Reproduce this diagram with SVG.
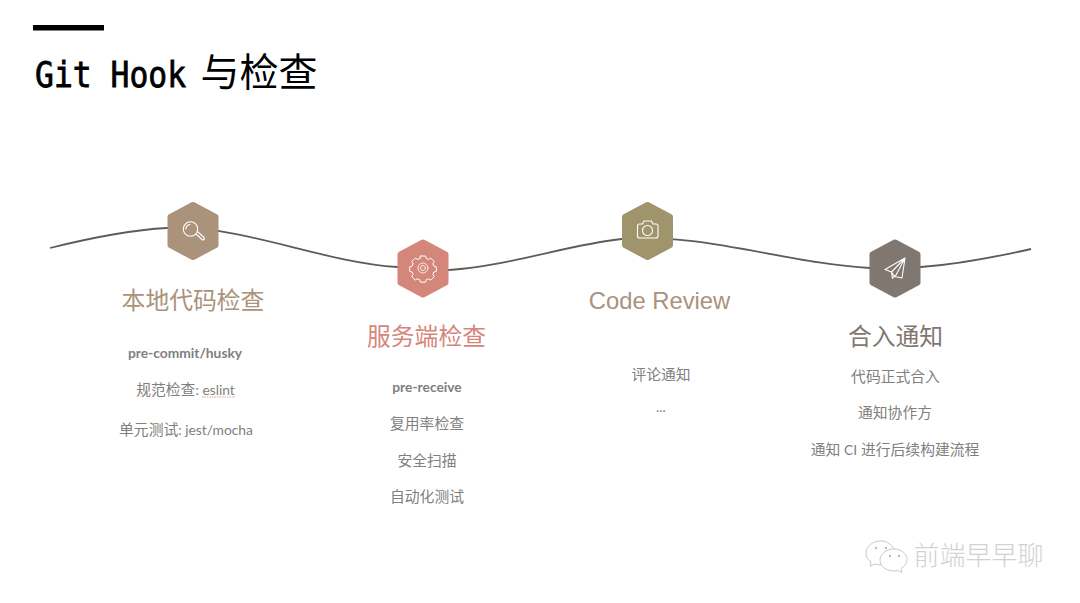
<svg xmlns="http://www.w3.org/2000/svg" width="1080" height="603" viewBox="0 0 1080 603">
<style>
text{text-anchor:middle;font-family:"Lato","Noto Sans CJK SC",sans-serif}
.t{font-family:"Liberation Sans","Noto Sans CJK SC",sans-serif;font-size:23.8px}
.b{font-size:14.8px;fill:#808080}
.l{font-size:13.8px}
.i{fill:none;stroke:#fff;stroke-width:1.1;stroke-linejoin:round;stroke-linecap:round}
.h{stroke-width:6;stroke-linejoin:round}
</style>
<defs><path id="hex" d="M0-26 22.500-14.200V14.200L0 26-22.500 14.200V-14.200Z"/></defs>
<rect width="1080" height="603" fill="#fff"/>
<g id="header">
<rect x="33" y="25" width="71" height="5.500" fill="#000"/>
<text x="35" y="86.500" textLength="151" lengthAdjust="spacingAndGlyphs" stroke="#000" stroke-width=".8" style="text-anchor:start;font-family:'DejaVu Sans Mono',monospace;font-size:36px" fill="#000">Git Hook</text>
<text x="259" y="86" font-size="39" fill="#000" style="font-family:'Noto Sans CJK SC',sans-serif">与检查</text>
</g>
<g id="connectors">
<path d="M50 248C90 238 130 230 167 228C240 224 320 262 397 267C415 268.500 432 271 449 270C510 266 570 244 622 239C700 232 790 264 870 268C890 269 905 268 921 267C960 264 1000 256 1031 249" fill="none" stroke="#5f5b59" stroke-width="1.800"/>
</g>
<g id="node1">
<use href="#hex" transform="translate(193 231)" fill="#ab927a" stroke="#ab927a" class="h"/>
<g class="i"><circle cx="190.500" cy="229" r="7.200"/><path d="M186 229a4.500 4.500 0 0 1 4-4.500M196 234l6 5.500a1.300 1.300 0 0 0 2-2l-6-5.500"/></g>
<text class="t" x="193" y="309" fill="#ab927a">本地代码检查</text>
<text class="b l" x="185" y="358" font-weight="700">pre-commit/husky</text>
<text class="b" x="185.500" y="394.500">规范检查<tspan class="l">: eslint</tspan></text>
<path d="M202 397h33" stroke="#d9a09a" stroke-width="1" stroke-dasharray="1.500 1"/>
<text class="b" x="186" y="434.500">单元测试<tspan class="l">: jest/mocha</tspan></text>
</g>
<g id="node2">
<use href="#hex" transform="translate(423 268.500)" fill="#d5867a" stroke="#d5867a" class="h"/>
<g class="i"><path stroke-width="1" d="M420.500 258.500h5l.7 2.500 2.200.9 2.400-1.300 3.400 3.400-1.300 2.400.9 2.200 2.500.7v4.600l-2.500.7-.9 2.200 1.300 2.400-3.400 3.400-2.400-1.300-2.200.9-.7 2.500h-5l-.7-2.500-2.200-.9-2.400 1.300-3.400-3.400 1.300-2.400-.9-2.200-2.500-.7v-4.600l2.500-.7.9-2.200-1.300-2.400 3.400-3.400 2.400 1.300 2.200-.9z" transform="translate(0 -2.500)"/><circle cx="423" cy="268" r="5" stroke-width=".8"/><circle cx="423" cy="268" r="2.500" stroke-width=".8"/></g>
<text class="t" x="426.500" y="345" fill="#d5867a">服务端检查</text>
<text class="b l" x="427" y="392" font-weight="700">pre-receive</text>
<text class="b" x="427" y="429">复用率检查</text>
<text class="b" x="427" y="465.500">安全扫描</text>
<text class="b" x="427" y="502">自动化测试</text>
</g>
<g id="node3">
<use href="#hex" transform="translate(647.500 231)" fill="#a0946c" stroke="#a0946c" class="h"/>
<g class="i"><path d="M637.500 226a2 2 0 0 1 2-2h3l1.500-3h7.500l1.500 3h3a2 2 0 0 1 2 2v10a2 2 0 0 1-2 2h-16.500a2 2 0 0 1-2-2z"/><circle cx="647.500" cy="230.500" r="5"/></g>
<text class="t" x="659.500" y="309" fill="#ab927a">Code Review</text>
<text class="b" x="661" y="379.500">评论通知</text>
<text class="b l" x="661" y="412">...</text>
</g>
<g id="node4">
<use href="#hex" transform="translate(895 268.500)" fill="#7f7770" stroke="#7f7770" class="h"/>
<g class="i"><path d="M905 258l-20 11.500 6.500 2.500 3 4.500 7.500 1.500zM905 258l-13.500 14 1 6.500 2-2.500M905 258l-9.500 18"/></g>
<text class="t" x="895.500" y="345" fill="#7f7770">合入通知</text>
<text class="b" x="895.500" y="381.500">代码正式合入</text>
<text class="b" x="895" y="418">通知协作方</text>
<text class="b" x="895" y="454.500">通知 <tspan class="l">CI</tspan> 进行后续构建流程</text>
</g>
<g id="watermark">
<g fill="#fff" stroke="#c9c9c9" stroke-width="1"><path d="M881 541c-9 0-15 6-15 12 0 4 2 7 5 9l-1 4 5-2c2 .6 4 .8 6 .8 6 0 12-4 15-9 0-7-7-15-15-15z"/><path d="M894 549c-8 0-14 5-14 11s6 11 14 11c1 0 3 0 4-.5l4 2-1-4c3-2 6-5 6-9 0-6-6-10.500-13-10.500z"/></g>
<g fill="#bbb"><circle cx="876" cy="548" r="1.200"/><circle cx="886" cy="548" r="1.200"/><circle cx="890" cy="556" r="1.200"/><circle cx="899" cy="556" r="1.200"/></g>
<text x="978.500" y="565" font-size="26" fill="#d2d2d2" style="font-family:'Noto Sans CJK SC',sans-serif" font-weight="300">前端早早聊</text>
</g>
</svg>
